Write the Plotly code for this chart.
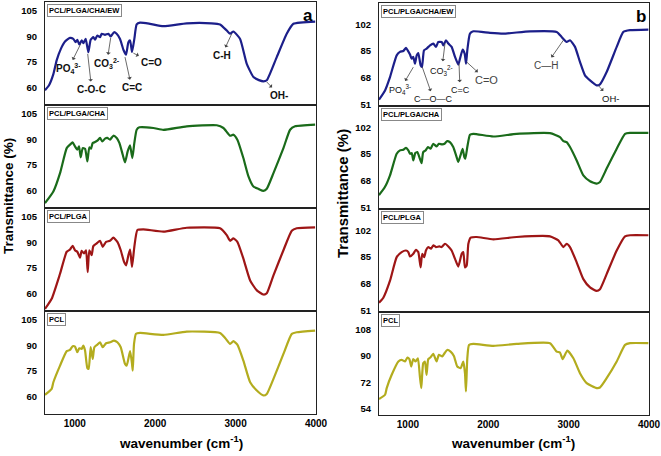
import plotly.graph_objects as go

# ---------------- DATA ----------------
# Panel a
a_ew_wn = [630, 680, 734, 775, 830, 879, 941, 982, 1011, 1032, 1057, 1086, 1107, 1136, 1169, 1198, 1231, 1252, 1281, 1314, 1335, 1376, 1418, 1447, 1488, 1521, 1563, 1605, 1638, 1667, 1688, 1712, 1741, 1770, 1812, 1936, 2102, 2392, 2700, 2807, 2890, 2932, 2973, 3056, 3139, 3222, 3290, 3346, 3388, 3512, 3636, 3719, 3990]
a_ew_T = [58.6, 61.5, 68, 76, 83, 87, 89.1, 88.5, 86.6, 88, 85.3, 87.6, 86, 88.5, 80.8, 88, 89.5, 88, 90.5, 89.5, 91.5, 90.9, 91.5, 89.9, 92.4, 91.5, 88.5, 82.2, 79.3, 86.6, 87.6, 80.8, 88.5, 96.9, 98, 97.3, 95.9, 97.6, 97.6, 96.9, 93.4, 91.5, 92.8, 88.5, 74, 66.3, 64.5, 63.8, 64.4, 77.9, 91.5, 97.3, 98.6]

a_cha_wn = [630, 734, 817, 900, 941, 974, 1003, 1032, 1053, 1074, 1099, 1128, 1157, 1181, 1202, 1223, 1252, 1281, 1314, 1343, 1376, 1405, 1438, 1480, 1522, 1555, 1597, 1625, 1658, 1687, 1716, 1741, 1770, 1804, 1978, 2102, 2392, 2766, 2849, 2932, 2973, 3022, 3097, 3160, 3222, 3290, 3346, 3388, 3471, 3595, 3678, 3740, 3989]
a_cha_T = [52.8, 59.6, 70.3, 84.9, 86.9, 88.2, 85.9, 84, 85.9, 79.5, 84.9, 84.5, 77.1, 85.3, 84.5, 87.9, 88.4, 89.2, 90.8, 88.8, 90.4, 90.8, 89.8, 92.1, 90.8, 87.9, 81, 76.6, 83, 86.5, 79.1, 87.9, 95.6, 97, 96.6, 95.5, 97.6, 98.2, 96.6, 92.1, 92.7, 89.8, 79.1, 68.4, 62.5, 61, 60, 61.2, 70.3, 84.9, 95.6, 97.6, 98.6]

a_plga_wn = [630, 713, 817, 900, 941, 974, 1003, 1032, 1065, 1086, 1115, 1140, 1161, 1181, 1210, 1231, 1273, 1314, 1348, 1389, 1438, 1480, 1530, 1572, 1613, 1638, 1667, 1688, 1712, 1741, 1779, 1853, 2102, 2392, 2807, 2890, 2932, 2973, 3022, 3097, 3181, 3264, 3346, 3388, 3471, 3595, 3699, 3761, 3989]
a_plga_T = [51.2, 57.1, 71.7, 84.5, 85.8, 88, 85.4, 84.5, 81.1, 85, 83.5, 85.4, 72.7, 85.4, 82.5, 87.8, 89.4, 90.9, 87.4, 90.3, 90.9, 92.7, 90.3, 85.4, 78.6, 76.6, 82.5, 85.8, 75.7, 87.4, 97.2, 97.6, 96.2, 98.5, 98.2, 94.2, 90.9, 92.3, 90.3, 80.5, 67.8, 62, 59.6, 60.4, 70.8, 85.4, 96.8, 98.2, 98.7]

a_pcl_wn = [630, 713, 734, 817, 900, 941, 974, 1003, 1032, 1057, 1086, 1107, 1128, 1157, 1173, 1198, 1223, 1244, 1281, 1314, 1348, 1389, 1438, 1488, 1530, 1572, 1625, 1646, 1688, 1712, 1721, 1737, 1762, 1812, 2102, 2392, 2807, 2870, 2932, 2973, 3022, 3097, 3181, 3264, 3346, 3388, 3471, 3595, 3699, 3761, 3989]
a_pcl_T = [61.2, 64.6, 68.5, 78.2, 86.6, 87.3, 89.5, 89.3, 86, 88.3, 87.9, 89.9, 87, 76.7, 76.3, 88.9, 82.1, 88.9, 90.4, 91.8, 88.9, 91.2, 91.8, 92.8, 91.8, 88.9, 79.2, 78.2, 86.6, 79.2, 75.3, 90.8, 96.7, 97.2, 96.1, 98, 97.2, 94.3, 90.8, 92.4, 90.4, 81.1, 68.5, 63.7, 60.8, 61.7, 70.5, 85, 96.7, 97.6, 98.6]

# Panel b
b_ew_wn = [640, 715, 777, 860, 901, 943, 976, 997, 1026, 1047, 1067, 1088, 1109, 1129, 1158, 1175, 1200, 1233, 1275, 1316, 1349, 1378, 1420, 1441, 1474, 1503, 1544, 1586, 1627, 1648, 1681, 1706, 1723, 1739, 1772, 1814, 2021, 2187, 2519, 2851, 2913, 2975, 3017, 3079, 3141, 3203, 3266, 3349, 3390, 3473, 3598, 3681, 3764, 3992]
b_ew_T = [54, 59.9, 68.4, 82.2, 84.4, 85, 86.9, 85.4, 82.7, 80.1, 81.2, 76.9, 82.2, 83.7, 75.9, 74.8, 85.4, 86.5, 88.6, 89.7, 87.6, 90.7, 90.7, 88.6, 91.8, 89.7, 87.6, 81.2, 76.3, 80.1, 85.9, 83.3, 76.9, 85.4, 96, 97.5, 96.5, 96, 97.5, 97.1, 93.9, 90.7, 91.8, 87.6, 78, 69.5, 66.3, 63.1, 63.8, 71.6, 87.6, 97.1, 98.2, 98.6]

b_cha_wn = [640, 715, 777, 860, 901, 943, 976, 1005, 1026, 1047, 1067, 1092, 1117, 1149, 1170, 1190, 1220, 1249, 1282, 1315, 1357, 1385, 1427, 1456, 1489, 1522, 1564, 1606, 1627, 1660, 1681, 1702, 1714, 1739, 1772, 1814, 2063, 2353, 2768, 2892, 2934, 2975, 3017, 3100, 3183, 3266, 3349, 3390, 3473, 3598, 3702, 3764, 3992]
b_cha_T = [58.8, 64.1, 71.4, 85.1, 87.3, 87.7, 88.9, 87.3, 85.1, 85.6, 80.9, 85.6, 86.2, 82, 79.2, 86.2, 87.3, 89.4, 88.3, 91.5, 89.8, 91.5, 91.1, 91.5, 93.2, 92.5, 89.4, 83, 79.9, 85.1, 88.3, 83, 82, 89.4, 97.2, 97.8, 96.1, 97.8, 98.2, 95.7, 93.2, 92.5, 89.4, 80.9, 71.4, 67.6, 66.2, 67.2, 75.7, 88.3, 97.8, 98.4, 98.4]

b_plga_wn = [640, 694, 777, 860, 922, 976, 1005, 1026, 1067, 1100, 1129, 1158, 1178, 1203, 1224, 1253, 1287, 1316, 1349, 1391, 1420, 1461, 1503, 1544, 1586, 1627, 1669, 1689, 1710, 1731, 1752, 1781, 1855, 2063, 2353, 2768, 2872, 2934, 2975, 3017, 3100, 3183, 3266, 3349, 3390, 3473, 3598, 3702, 3764, 3992]
b_plga_T = [55.9, 59.1, 69.9, 84.9, 88.1, 89.1, 88.1, 85.3, 87, 89.6, 88.1, 78.4, 87, 84.9, 89.1, 91.3, 90.2, 92.4, 91.3, 91.7, 91.3, 93.4, 91.7, 89.1, 83.8, 78.9, 87, 88.1, 78.4, 79.5, 93.4, 97.3, 97.7, 96.2, 97.7, 98.1, 95.6, 91.3, 93.4, 91.3, 81.6, 70.9, 65.6, 63.4, 64.5, 74.1, 89.1, 98.1, 98.8, 98.8]

b_pcl_wn = [640, 715, 736, 798, 881, 922, 964, 993, 1018, 1041, 1066, 1095, 1124, 1149, 1166, 1190, 1211, 1232, 1253, 1282, 1315, 1357, 1385, 1427, 1456, 1489, 1531, 1572, 1614, 1656, 1689, 1710, 1722, 1739, 1760, 1814, 2063, 2353, 2768, 2851, 2892, 2926, 2984, 3059, 3141, 3224, 3349, 3390, 3473, 3598, 3702, 3764, 3992]
b_pcl_T = [60.8, 63.7, 68.2, 77.2, 86.2, 87.3, 86.2, 88.9, 87.8, 82.8, 87.8, 86.2, 88.4, 76, 68.2, 85, 86.2, 77.2, 87.8, 89.1, 91.4, 86.2, 90.7, 89.6, 91.8, 94, 92.9, 90, 82.8, 81.7, 86.2, 78.3, 65.9, 88.4, 97.4, 98.1, 96.8, 98.1, 98.6, 92.9, 92.3, 87.8, 93.6, 88.4, 78.3, 71.6, 68.2, 68.6, 74.9, 86.2, 97.4, 98.6, 98.6]

series_names = ["PCL/PLGA/CHA/EW", "PCL/PLGA/CHA", "PCL/PLGA", "PCL"]
series_colors = ["#1c1f8a", "#1a6b1a", "#9e1616", "#b3ac1e"]

panel_a = [(a_ew_wn, a_ew_T), (a_cha_wn, a_cha_T), (a_plga_wn, a_plga_T), (a_pcl_wn, a_pcl_T)]
panel_b = [(b_ew_wn, b_ew_T), (b_cha_wn, b_cha_T), (b_plga_wn, b_plga_T), (b_pcl_wn, b_pcl_T)]

a_yticks = [[60, 75, 90, 105]] * 4
b_yticks = [[51, 68, 85, 102]] * 3 + [[54, 72, 90, 108]]
a_yranges = [[50, 110]] * 4
b_yranges = [[50, 115.5]] * 3 + [[50, 119.7]]
a_xrange = [630, 4000]
b_xrange = [640, 4000]
xticks = [1000, 2000, 3000, 4000]

# band labels: (label_html, label_wn, label_T, band_wn, band_T, size, color, bold)
a_bands = [
    ("PO<sub>4</sub><sup>3-</sup>", 920, 71.1, 1074, 85.6, 10, "#111", True),
    ("C-O-C", 1211, 59.0, 1161, 79.8, 10, "#111", True),
    ("CO<sub>3</sub><sup>2-</sup>", 1397, 74.0, 1447, 89.1, 10, "#111", True),
    ("C=C", 1708, 60.1, 1625, 77.9, 10, "#111", True),
    ("C=O", 1957, 75.0, 1729, 80.2, 10, "#111", True),
    ("C-H", 2828, 78.9, 2952, 91.5, 10, "#111", True),
    ("OH-", 3545, 55.7, 3388, 63.4, 10, "#111", True),
]
b_bands = [
    ("PO<sub>4</sub><sup>3-</sup>", 901, 60.3, 1067, 74.7, 9, "#111", False),
    ("C—O—C", 1316, 54.6, 1178, 74.8, 9, "#111", False),
    ("CO<sub>3</sub><sup>2-</sup>", 1420, 72.7, 1461, 89.7, 9, "#111", False),
    ("C=C", 1648, 60.3, 1636, 76.9, 9, "#111", False),
    ("C=O", 1980, 66.3, 1731, 78.0, 11, "#444", False),
    ("C—H", 2718, 75.9, 2934, 91.8, 10, "#444", False),
    ("OH-", 3515, 54.6, 3369, 63.1, 9.5, "#111", False),
]

# ---------------- LAYOUT ----------------
W, H = 661, 456
FONT = "Liberation Sans, Arial, sans-serif"
a_xdom = [45 / W, 316 / W]
b_xdom = [379 / W, 649 / W]
a_rows_px = [2, 105, 208, 311, 414]
b_rows_px = [3, 106, 209, 312, 415]


def ydom(rows, r):
    return [1 - rows[r + 1] / H, 1 - rows[r] / H]


fig = go.Figure()
layout = dict(
    width=W, height=H, autosize=False,
    margin=dict(l=0, r=0, t=0, b=0, pad=0),
    paper_bgcolor="white", plot_bgcolor="white",
    showlegend=False,
    font=dict(family=FONT, color="black"),
)
annotations = []

panels = [
    (panel_a, a_xdom, a_rows_px, a_yticks, a_yranges, a_xrange, a_bands, "a"),
    (panel_b, b_xdom, b_rows_px, b_yticks, b_yranges, b_xrange, b_bands, "b"),
]

for p, (data, xdom, rows, yticks, yranges, xrange_, bands, letter) in enumerate(panels):
    for r in range(4):
        idx = p * 4 + r + 1
        xs = "" if idx == 1 else str(idx)
        wn, T = data[r]
        fig.add_trace(go.Scatter(
            x=wn, y=T, mode="lines", xaxis="x" + xs, yaxis="y" + xs,
            line=dict(color=series_colors[r], width=2.2, shape="spline", smoothing=0.5),
            hoverinfo="skip",
        ))
        layout["xaxis" + xs] = dict(
            domain=xdom, anchor="y" + xs, range=xrange_, tickvals=xticks,
            showticklabels=(r == 3), showgrid=False, zeroline=False,
            showline=True, mirror=True, linecolor="#222", linewidth=1,
            ticks="", tickfont=dict(size=10, weight="bold", family=FONT),
            automargin=False,
        )
        layout["yaxis" + xs] = dict(
            domain=ydom(rows, r), anchor="x" + xs, range=yranges[r], tickvals=yticks[r],
            showgrid=False, zeroline=False, showline=True, mirror=True,
            linecolor="#222", linewidth=1, ticks="", ticklabelstandoff=5,
            tickfont=dict(size=9.5, weight="bold", family=FONT), automargin=False,
        )
        # sample name box
        annotations.append(dict(
            xref="x" + xs + " domain", yref="y" + xs + " domain", x=0.006, y=0.985,
            xanchor="left", yanchor="top", showarrow=False,
            text=series_names[r], font=dict(size=7.5, weight="bold", family=FONT),
            bgcolor="white", bordercolor="#888", borderwidth=1, borderpad=1,
        ))
        if r == 0:
            annotations.append(dict(
                xref="x" + xs + " domain", yref="y" + xs + " domain", x=0.998, y=0.985,
                xanchor="right", yanchor="top", showarrow=False,
                text=letter, font=dict(size=17, weight="bold", family=FONT),
            ))
            for (lab, lx, ly, bx, by, fs, fc, fb) in bands:
                # label sits at (ax, ay); line runs to the band on the curve (x, y);
                # arrow head drawn at the label end, as in the original figure
                annotations.append(dict(
                    xref="x" + xs, yref="y" + xs, axref="x" + xs, ayref="y" + xs,
                    x=bx, y=by, ax=lx, ay=ly, text=lab, showarrow=True,
                    arrowhead=2, arrowside="start", arrowsize=1, arrowwidth=0.8,
                    arrowcolor="#444", standoff=0, startstandoff=1,
                    font=dict(size=fs, weight="bold" if fb else "normal",
                              family=FONT, color=fc),
                ))

# axis titles: (x-title centre px, y-title x px, y-title centre px, y-title size)
for cx, ty_x, ty_c, ty_s in [(181, 8, 196, 13.5), (513, 342, 193, 15)]:
    annotations.append(dict(
        xref="paper", yref="paper", x=cx / W, y=3 / H, showarrow=False,
        text="wavenumber (cm<sup>-1</sup>)", font=dict(size=13.5, weight="bold", family=FONT),
        xanchor="center", yanchor="bottom",
    ))
    annotations.append(dict(
        xref="paper", yref="paper", x=ty_x / W, y=1 - ty_c / H, showarrow=False,
        text="Transmittance (%)", textangle=-90,
        font=dict(size=ty_s, weight="bold", family=FONT),
        xanchor="center", yanchor="middle",
    ))

layout["annotations"] = annotations
fig.update_layout(**layout)
fig.write_html(
    "out.html",
    config={"responsive": False, "displayModeBar": False, "staticPlot": True},
    post_script="document.body.style.margin='0';document.body.style.padding='0';document.body.style.overflow='hidden';",
)
